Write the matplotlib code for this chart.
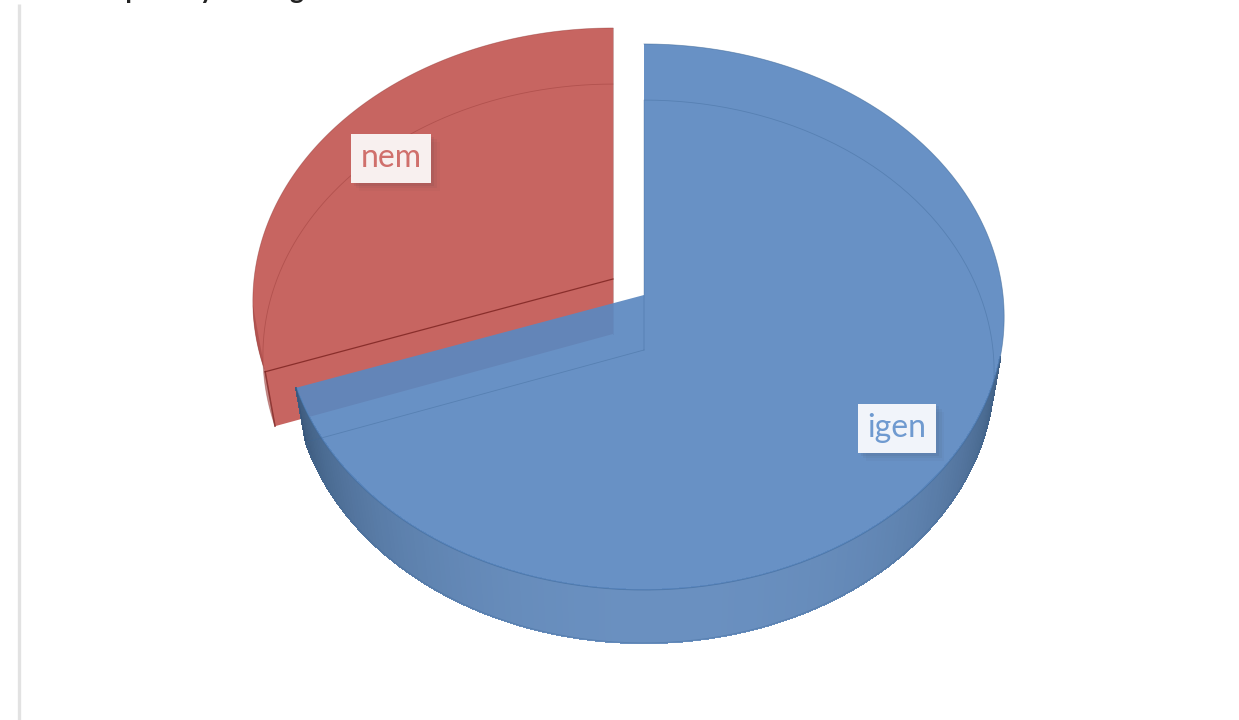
import numpy as np
import matplotlib
matplotlib.use("Agg")
import matplotlib.pyplot as plt
from matplotlib.patches import Polygon
from matplotlib.collections import PolyCollection
import matplotlib.patheffects as pe

categories = ["igen", "nem"]
values = [69.6, 30.4]
title_fragment = "Tudta képes   nyitottság"

plt.rcParams['font.family'] = ['Lato', 'DejaVu Sans']
fig = plt.figure(figsize=(12.39, 7.2), dpi=100)
ax = fig.add_axes([0, 0, 1, 1])
ax.set_xlim(0, 1239)
ax.set_ylim(720, 0)
ax.axis('off')

# projective disc: top face and bottom face of the 3D pie
TOP = dict(cx=644, k=359, a=-247.5, b=295, c=0.0806)
BOT = dict(cx=644, k=349, a=-242.0, b=350, c=0.0792)
EXPLODE = (-31, -16)


def proj(face, u, v, off=(0, 0)):
    d = face['c'] * v + 1
    return face['cx'] + face['k'] * u / d + off[0], (face['a'] * v + face['b']) / d + off[1]


def rim(face, t0, t1, off=(0, 0), n=240):
    t = np.radians(np.linspace(t0, t1, n))
    return np.column_stack(proj(face, np.sin(t), np.cos(t), off))


def sector(face, t0, t1, off=(0, 0)):
    apex = np.array(proj(face, 0.0, 0.0, off))
    return np.vstack([apex, rim(face, t0, t1, off), apex])


end_blue = 360 * values[0] / sum(values)
red_c = '#c76561'
blue_c = '#5b88c0'
red_line = '#7f2522'

# --- exploded slice (behind): one flat silhouette of both faces
outer = np.vstack([rim(BOT, end_blue, end_blue, EXPLODE, 1),
                   rim(TOP, end_blue, 360, EXPLODE),
                   [proj(BOT, 0, 0, EXPLODE)]])
ax.add_patch(Polygon(outer, closed=True, fc=red_c, ec='none', zorder=1))
# dark wedge on the outer wall
wall = np.vstack([rim(TOP, end_blue, end_blue + 14, EXPLODE, 30), rim(BOT, end_blue + 14, end_blue, EXPLODE, 30)])
ax.add_patch(Polygon(wall, closed=True, fc='#a84a47', ec='none', alpha=0.65, zorder=1))
ax.plot(*rim(TOP, end_blue, 360, EXPLODE).T, color=red_line, lw=0.6, alpha=0.35, zorder=2)
ax.plot(*np.vstack([[proj(TOP, 0, 0, EXPLODE)], rim(TOP, end_blue, end_blue, EXPLODE, 1)]).T,
        color=red_line, lw=0.9, alpha=0.85, zorder=2)
ax.plot(*np.vstack([rim(TOP, 360, 360, EXPLODE, 1), [proj(TOP, 0, 0, EXPLODE)], [proj(BOT, 0, 0, EXPLODE)]]).T,
        color=red_line, lw=0.7, alpha=0.4, zorder=2)
ax.plot(*rim(BOT, end_blue, 360, EXPLODE).T, color=red_line, lw=0.6, alpha=0.3, zorder=2)
ax.plot(*np.vstack([rim(TOP, end_blue, end_blue, EXPLODE, 1), rim(BOT, end_blue, end_blue, EXPLODE, 1)]).T,
        color=red_line, lw=1.1, alpha=0.8, zorder=2)

# --- blue slice: curved wall with shading
angles = np.linspace(103, end_blue, 161)
quads, cols = [], []
base = np.array(matplotlib.colors.to_rgb('#6a90c0'))
dark = np.array(matplotlib.colors.to_rgb('#3f5d80'))
mid = (angles[0] + angles[-1]) / 2
half = (angles[-1] - angles[0]) / 2
for a0, a1 in zip(angles[:-1], angles[1:]):
    q = np.vstack([rim(TOP, a0, a1, n=2), rim(BOT, a1, a0, n=2)])
    quads.append(q)
    s = min(1.0, abs((a0 + a1) / 2 - mid) / half) ** 2.2
    cols.append(base * (1 - s) + dark * s)
ax.add_collection(PolyCollection(quads, facecolors=cols, edgecolors=cols, linewidths=1.0,
                                 antialiaseds=False, zorder=3))

# translucent top face
ax.add_patch(Polygon(sector(TOP, 0, end_blue), closed=True, fc=blue_c, ec='none', alpha=0.92, zorder=4))
ax.plot(*rim(TOP, 0, end_blue).T, color='#3d6796', lw=0.6, alpha=0.55, zorder=5)
ax.plot(*sector(BOT, 0, end_blue).T, color='#3d6796', lw=0.6, alpha=0.4, zorder=5)
ax.plot(*np.vstack([rim(TOP, end_blue, end_blue, n=1), rim(BOT, end_blue, end_blue, n=1)]).T,
        color='#2f4f78', lw=0.7, alpha=0.5, zorder=5)

# --- data labels
cum = np.cumsum([0] + values) * 360 / sum(values)
for name, t0, t1, off, col, edge, rad in zip(categories, cum[:-1], cum[1:], [(0, 0), EXPLODE],
                                             ['#6f9ad0', '#d0706c'], ['#f1f4fa', '#f8f0ef'], [0.83, 0.785]):
    m = np.radians((t0 + t1) / 2)
    x, y = proj(TOP, rad * np.sin(m), rad * np.cos(m), off)
    txt = ax.text(x, y - 2, name, color=col, fontsize=23, ha='center', va='center', zorder=8,
                  bbox=dict(boxstyle='square,pad=0.3', fc=edge, ec='none'))
    txt.get_bbox_patch().set_path_effects([
        pe.SimplePatchShadow(offset=(2, -2), shadow_rgbFace='#30303a', alpha=0.07),
        pe.SimplePatchShadow(offset=(4, -4), shadow_rgbFace='#30303a', alpha=0.05),
        pe.SimplePatchShadow(offset=(6, -6), shadow_rgbFace='#30303a', alpha=0.03),
        pe.Normal()])

# --- page remnants: left rule and the cropped heading
ax.plot([18.5, 18.5], [4, 720], color='#e2e2e2', lw=2.4, zorder=0, solid_capstyle='butt')
ax.text(22, -1, title_fragment, fontsize=19, fontweight='bold', color='#222222', ha='left', va='baseline', zorder=9)

fig.savefig('out.png', dpi=100)
